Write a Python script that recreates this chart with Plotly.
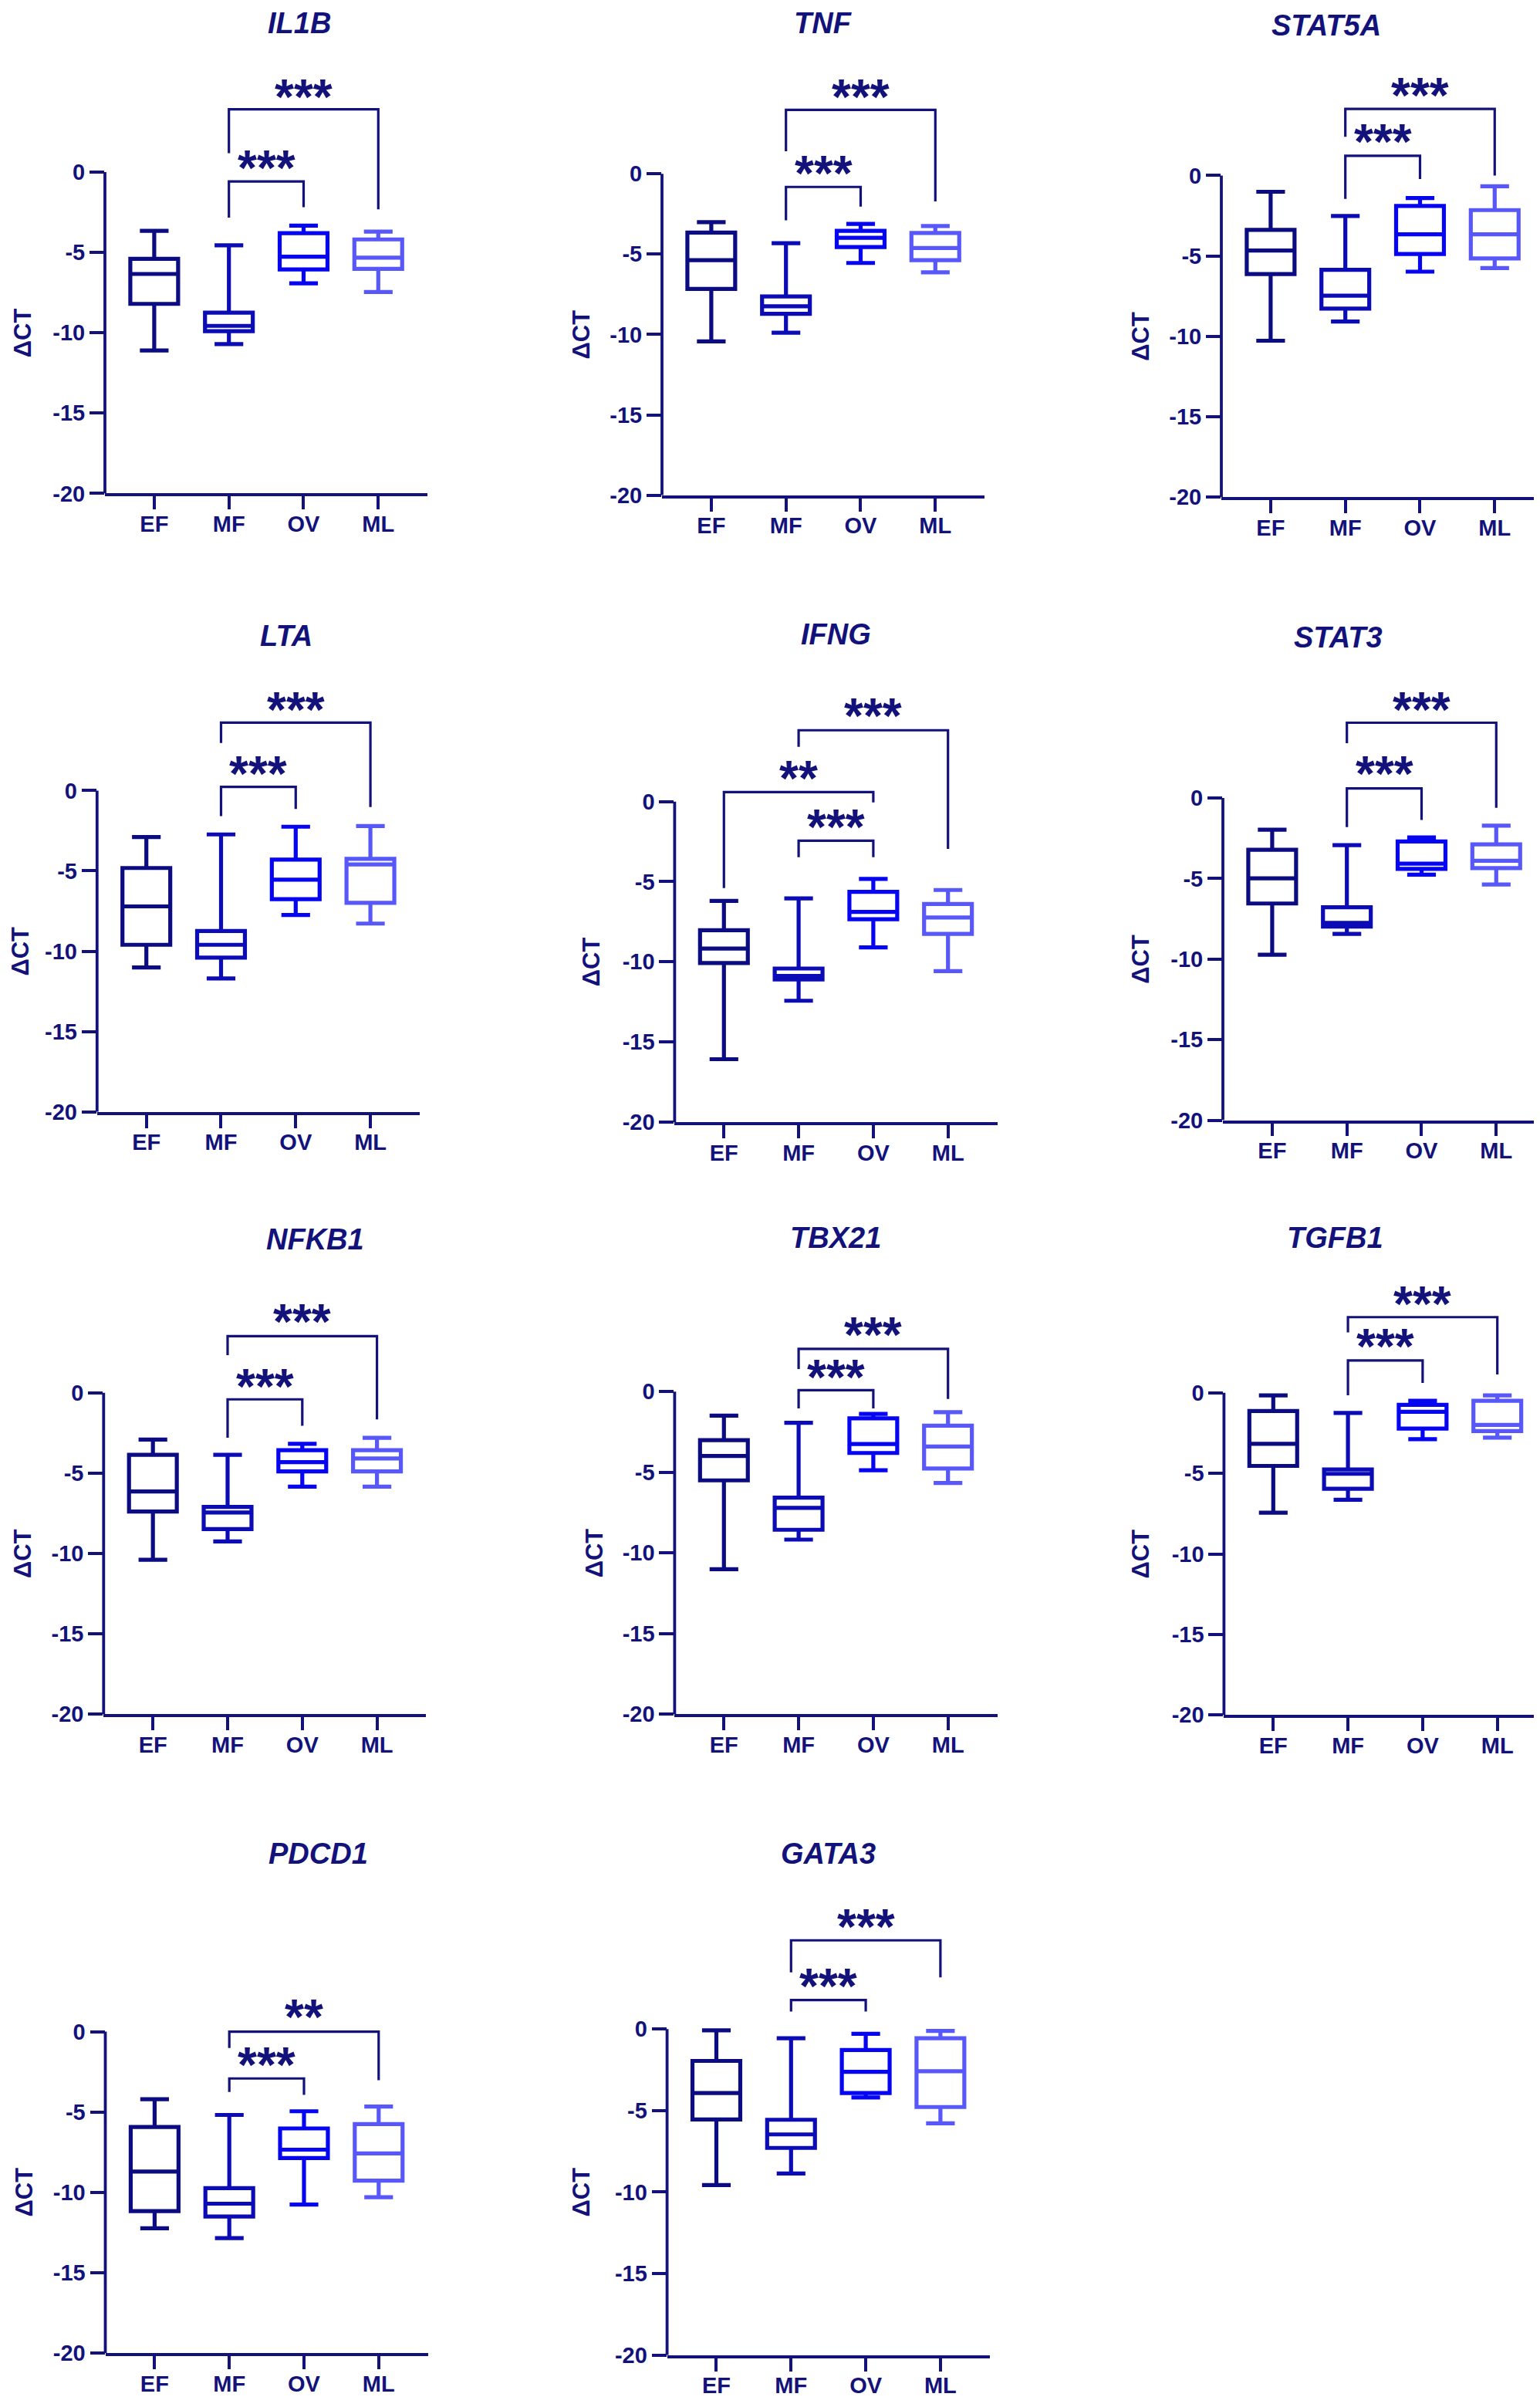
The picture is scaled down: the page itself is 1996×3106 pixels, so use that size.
import plotly.graph_objects as go

# ---------------- data ----------------
groups = ["EF", "MF", "OV", "ML"]
genes = ["IL1B", "TNF", "STAT5A", "LTA", "IFNG", "STAT3",
         "NFKB1", "TBX21", "TGFB1", "PDCD1", "GATA3"]

whisker_low = {
    "IL1B": [-11.1, -10.7, -6.92, -7.46],
    "TNF": [-10.43, -9.89, -5.55, -6.13],
    "STAT5A": [-10.28, -9.08, -5.98, -5.76],
    "LTA": [-11.01, -11.7, -7.74, -8.28],
    "IFNG": [-16.08, -12.43, -9.1, -10.58],
    "STAT3": [-9.73, -8.44, -4.76, -5.37],
    "NFKB1": [-10.39, -9.25, -5.84, -5.84],
    "TBX21": [-11.01, -9.17, -4.87, -5.66],
    "TGFB1": [-7.44, -6.64, -2.88, -2.79],
    "PDCD1": [-12.23, -12.84, -10.75, -10.3],
    "GATA3": [-9.57, -8.86, -4.19, -5.78],
}
quartile1 = {
    "IL1B": [-8.2, -9.9, -6.06, -6.02],
    "TNF": [-7.16, -8.71, -4.56, -5.38],
    "STAT5A": [-6.13, -8.28, -4.88, -5.16],
    "LTA": [-9.6, -10.4, -6.76, -6.99],
    "IFNG": [-10.08, -11.1, -7.34, -8.26],
    "STAT3": [-6.55, -7.98, -4.4, -4.35],
    "NFKB1": [-7.39, -8.48, -4.89, -4.89],
    "TBX21": [-5.5, -8.56, -3.8, -4.76],
    "TGFB1": [-4.54, -5.96, -2.22, -2.38],
    "PDCD1": [-11.16, -11.5, -7.86, -9.27],
    "GATA3": [-5.54, -7.29, -3.92, -4.78],
}
medians = {
    "IL1B": [-6.34, -9.57, -5.27, -5.33],
    "TNF": [-5.38, -8.24, -3.98, -4.62],
    "STAT5A": [-4.67, -7.48, -3.66, -3.66],
    "LTA": [-7.21, -9.6, -5.55, -4.6],
    "IFNG": [-9.17, -10.88, -6.89, -7.23],
    "STAT3": [-4.99, -7.75, -4.08, -3.9],
    "NFKB1": [-6.14, -7.45, -4.32, -4.09],
    "TBX21": [-3.99, -7.2, -3.24, -3.4],
    "TGFB1": [-3.17, -5.03, -1.18, -2.0],
    "PDCD1": [-8.7, -10.7, -7.34, -7.57],
    "GATA3": [-3.92, -6.46, -2.62, -2.58],
}
quartile3 = {
    "IL1B": [-5.4, -8.75, -3.8, -4.19],
    "TNF": [-3.66, -7.63, -3.55, -3.68],
    "STAT5A": [-3.38, -5.87, -1.89, -2.15],
    "LTA": [-4.82, -8.74, -4.3, -4.25],
    "IFNG": [-8.03, -10.42, -5.63, -6.39],
    "STAT3": [-3.22, -6.78, -2.7, -2.88],
    "NFKB1": [-3.86, -7.1, -3.57, -3.57],
    "TBX21": [-3.01, -6.57, -1.65, -2.11],
    "TGFB1": [-1.13, -4.76, -0.75, -0.5],
    "PDCD1": [-5.93, -9.73, -6.02, -5.75],
    "GATA3": [-1.95, -5.56, -1.28, -0.56],
}
whisker_high = {
    "IL1B": [-3.66, -4.56, -3.33, -3.7],
    "TNF": [-3.01, -4.32, -3.12, -3.25],
    "STAT5A": [-1.01, -2.52, -1.4, -0.67],
    "LTA": [-2.89, -2.73, -2.25, -2.21],
    "IFNG": [-6.2, -6.04, -4.83, -5.52],
    "STAT3": [-1.97, -2.93, -2.45, -1.72],
    "NFKB1": [-2.91, -3.86, -3.18, -2.8],
    "TBX21": [-1.49, -1.93, -1.38, -1.27],
    "TGFB1": [-0.16, -1.25, -0.5, -0.16],
    "PDCD1": [-4.2, -5.18, -4.95, -4.66],
    "GATA3": [-0.07, -0.56, -0.29, -0.11],
}
# significance brackets: (group a, group b, bar level, left end, right end, label level, label)
significance = {
    "IL1B": [("MF", "OV", -0.58, -2.84, -2.19, 0.75, "***"),
             ("MF", "ML", 3.91, 1.18, -2.32, 5.2, "***")],
    "TNF": [("MF", "OV", -0.82, -2.9, -2.04, 0.54, "***"),
            ("MF", "ML", 3.98, 1.4, -1.72, 5.27, "***")],
    "STAT5A": [("MF", "OV", 1.23, -1.46, -0.22, 2.62, "***"),
               ("MF", "ML", 4.15, 2.41, 0.0, 5.48, "***")],
    "LTA": [("MF", "OV", 0.23, -1.59, -1.14, 1.55, "***"),
            ("MF", "ML", 4.23, 2.96, -1.02, 5.53, "***")],
    "IFNG": [("MF", "OV", -2.44, -3.47, -3.47, -1.07, "***"),
             ("EF", "OV", 0.59, -5.4, -0.05, 1.96, "**"),
             ("MF", "ML", 4.45, 3.42, -2.96, 5.84, "***")],
    "STAT3": [("MF", "OV", 0.59, -1.81, -1.36, 2.0, "***"),
              ("MF", "ML", 4.67, 3.4, -0.61, 5.96, "***")],
    "NFKB1": [("MF", "OV", -0.41, -2.8, -2.05, 0.91, "***"),
              ("MF", "ML", 3.52, 2.34, -1.66, 4.93, "***")],
    "TBX21": [("MF", "OV", 0.09, -1.04, -1.04, 1.4, "***"),
              ("MF", "ML", 2.65, 1.4, -0.45, 4.01, "***")],
    "TGFB1": [("MF", "OV", 2.0, -0.16, 0.61, 3.4, "***"),
              ("MF", "ML", 4.69, 3.74, 1.13, 6.0, "***")],
    "PDCD1": [("MF", "OV", -2.91, -3.75, -3.93, -1.55, "***"),
              ("MF", "ML", 0.0, -1.02, -3.02, 1.41, "**")],
    "GATA3": [("MF", "OV", 1.79, 1.08, 1.08, 3.14, "***"),
              ("MF", "ML", 5.45, 3.48, 3.18, 6.79, "***")],
}
y_ticks = [0, -5, -10, -15, -20]
y_title = "ΔCT"

# ---------------- layout geometry (pixels) ----------------
W, H = 1996, 3106
# axis left px, y=0 px, y=-20 px, title centre px, y-title centre x px
GEOM = {
    "IL1B": (128, 216.1, 634.7, 18, 21),
    "TNF": (850, 218.3, 637.0, 22.5, 745),
    "STAT5A": (1575, 220.6, 639.2, 24.8, 1471),
    "LTA": (117.8, 1021.7, 1440.1, 820.4, 19),
    "IFNG": (866.4, 1036.0, 1453.4, 818, 758),
    "STAT3": (1577, 1031.3, 1451.0, 821.9, 1471),
    "NFKB1": (126.3, 1806.0, 2224.8, 1606.2, 21),
    "TBX21": (866.4, 1804.6, 2224.8, 1603.8, 762),
    "TGFB1": (1578.4, 1806.0, 2225.8, 1604.7, 1471),
    "PDCD1": (128.5, 2638.2, 3057.0, 2406.4, 23.5),
    "GATA3": (856.6, 2634.9, 3059.4, 2406.4, 745),
}
SPACING = 96.8
XMIN = -0.66
XSPAN = 4.32
YMAX = 9
box_colors = ["#0c0c82", "#0c0cb6", "#0505f2", "#5858fa"]
NAVY = "#12127a"
FONT = "Liberation Sans"
STAR_SIZE = 64
TITLE_SIZE = 38
TICK_SIZE = 29
YTITLE_SIZE = 31

fig = go.Figure()
layout_axes = {}
annotations = []
shapes = []

for k, gene in enumerate(genes):
    n = k + 1
    xa = "x" if n == 1 else f"x{n}"
    ya = "y" if n == 1 else f"y{n}"
    left, y0, y20, ty, yt_x = GEOM[gene]
    unit = (y20 - y0) / 20.0
    right = min(W, left + XSPAN * SPACING)
    xmax = XMIN + (right - left) / SPACING
    top = y0 - YMAX * unit

    for i, g in enumerate(groups):
        fig.add_trace(go.Box(
            x=[g], q1=[quartile1[gene][i]], median=[medians[gene][i]],
            q3=[quartile3[gene][i]], lowerfence=[whisker_low[gene][i]],
            upperfence=[whisker_high[gene][i]],
            xaxis=xa, yaxis=ya, width=0.64, whiskerwidth=0.6,
            line=dict(color=box_colors[i], width=5.2), fillcolor="white",
            boxpoints=False, showlegend=False, hoverinfo="skip"))

    for (ga, gb, bar, dl, dr, ly, lab) in significance[gene]:
        fig.add_trace(go.Scatter(
            x=[ga, ga, gb, gb], y=[dl, bar, bar, dr], mode="lines",
            line=dict(color=NAVY, width=3.2), xaxis=xa, yaxis=ya,
            showlegend=False, hoverinfo="skip"))
        mid = (groups.index(ga) + groups.index(gb)) / 2.0
        annotations.append(dict(
            x=mid, y=ly, xref=xa, yref=ya, text=f"<b>{lab}</b>",
            showarrow=False, yanchor="middle", yshift=-0.17 * STAR_SIZE,
            font=dict(family=FONT, size=STAR_SIZE, color=NAVY)))

    tickfont = dict(family=FONT, size=TICK_SIZE, color=NAVY)
    layout_axes["xaxis" if n == 1 else f"xaxis{n}"] = dict(
        domain=[left / W, right / W], range=[XMIN, xmax], type="category",
        categoryorder="array", categoryarray=groups, anchor=ya,
        tickvals=groups, ticktext=[f"<b>{g}</b>" for g in groups],
        showline=True, linecolor=NAVY, linewidth=3.8, ticks="outside",
        ticklen=17, tickwidth=3.8, tickcolor=NAVY, tickfont=tickfont,
        ticklabelstandoff=-6,
        showgrid=False, zeroline=False, fixedrange=True)
    layout_axes["yaxis" if n == 1 else f"yaxis{n}"] = dict(
        domain=[1 - y20 / H, 1 - top / H], range=[-20, YMAX], anchor=xa,
        tickvals=y_ticks, ticktext=[f"<b>{v}</b>" for v in y_ticks],
        showline=False, ticks="outside", ticklen=19, tickwidth=3.8,
        tickcolor=NAVY, tickfont=tickfont, showgrid=False, zeroline=False,
        fixedrange=True)
    shapes.append(dict(type="line", xref=f"{xa} domain", yref=ya,
                       x0=0, x1=0, y0=-20, y1=0,
                       line=dict(color=NAVY, width=3.8)))
    ty_eff = max(ty, 0.58 * TITLE_SIZE)
    annotations.append(dict(
        x=(left + XSPAN * SPACING / 2) / W, y=1 - ty_eff / H, xref="paper",
        yref="paper", text=f"<b><i>{gene}</i></b>", showarrow=False,
        yanchor="middle",
        font=dict(family=FONT, size=TITLE_SIZE, color=NAVY)))
    annotations.append(dict(
        x=yt_x / W, y=1 - (y0 + y20) / 2 / H, xref="paper",
        yref="paper", text=f"<b>{y_title}</b>", showarrow=False,
        textangle=-90, xanchor="center", yanchor="middle",
        font=dict(family=FONT, size=YTITLE_SIZE, color=NAVY)))

fig.update_layout(
    width=W, height=H, margin=dict(l=0, r=0, t=0, b=0),
    paper_bgcolor="white", plot_bgcolor="white", boxmode="overlay",
    annotations=annotations, shapes=shapes, showlegend=False,
    **layout_axes)

fig.write_html("out.html")
